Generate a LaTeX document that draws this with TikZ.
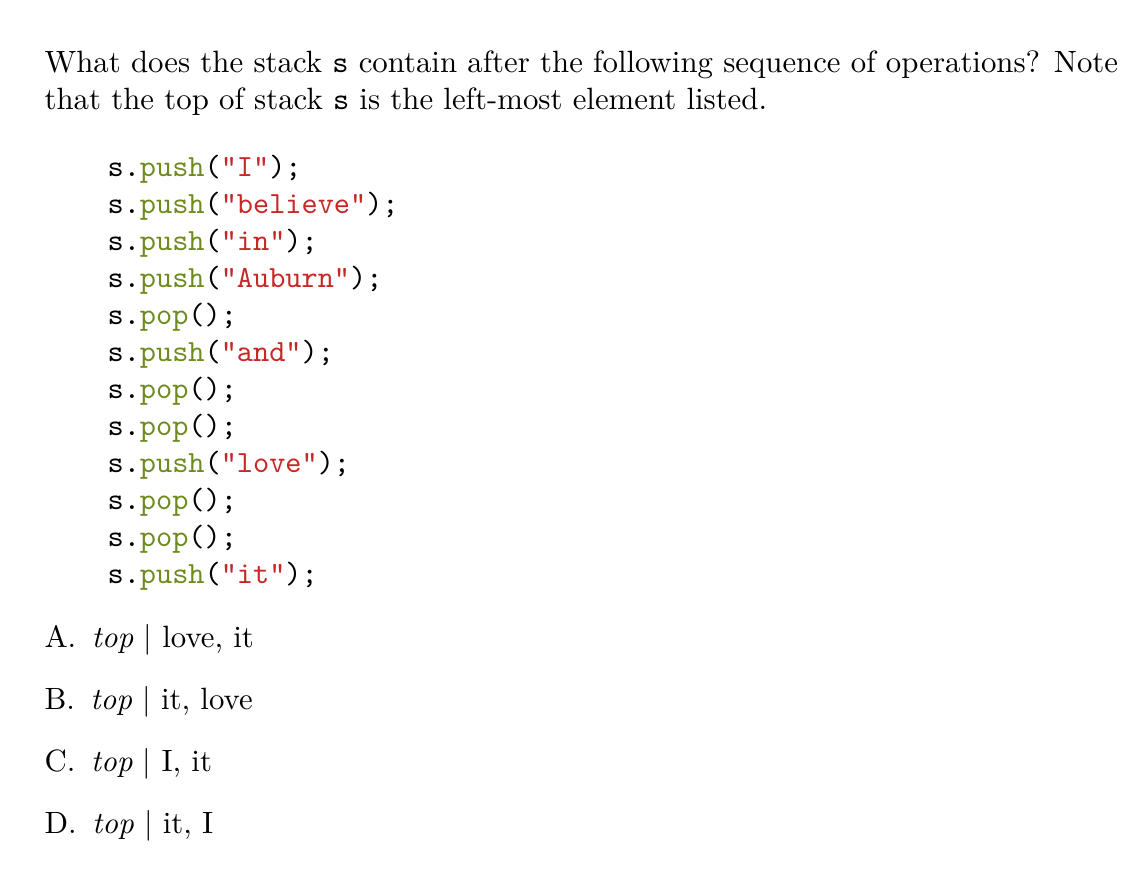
\documentclass[tikz,border=0pt]{standalone}
\usepackage{xcolor}
\definecolor{kw}{HTML}{6E8B1E}
\definecolor{st}{HTML}{C62828}
\begin{document}
\begin{tikzpicture}[x=0.3247pt,y=-0.3247pt,
  txt/.style={anchor=base west,inner sep=0pt,font=\fontsize{10}{12}\selectfont},
  code/.style={anchor=base west,inner sep=0pt,font=\fontsize{10}{12}\selectfont\ttfamily}]
\useasboundingbox (0,0) rectangle (1135,880);
\newcommand{\pu}[1]{s.\textcolor{kw}{push}(\textcolor{st}{"#1"});}
\newcommand{\po}{s.\textcolor{kw}{pop}();}
\node[txt] (l1) at (44,73) {What does the stack \texttt{s} contain after the following sequence of operations? Note};
\node[txt] (l2) at (44,110) {that the top of stack \texttt{s} is the left-most element listed.};
\node[code] (c1) at (107,177) {\pu{I}};
\node[code] (c2) at (107,214) {\pu{believe}};
\node[code] (c3) at (107,251) {\pu{in}};
\node[code] (c4) at (107,288) {\pu{Auburn}};
\node[code] (c5) at (107,325) {\po};
\node[code] (c6) at (107,362) {\pu{and}};
\node[code] (c7) at (107,399) {\po};
\node[code] (c8) at (107,436) {\po};
\node[code] (c9) at (107,473) {\pu{love}};
\node[code] (c10) at (107,510) {\po};
\node[code] (c11) at (107,547) {\po};
\node[code] (c12) at (107,584) {\pu{it}};
\node[txt] (a) at (44,648) {A.\enspace\textit{top} $|$ love, it};
\node[txt] (b) at (44,710) {B.\enspace\textit{top} $|$ it, love};
\node[txt] (c) at (44,772) {C.\enspace\textit{top} $|$ I, it};
\node[txt] (d) at (44,834) {D.\enspace\textit{top} $|$ it, I};
\end{tikzpicture}
\end{document}
